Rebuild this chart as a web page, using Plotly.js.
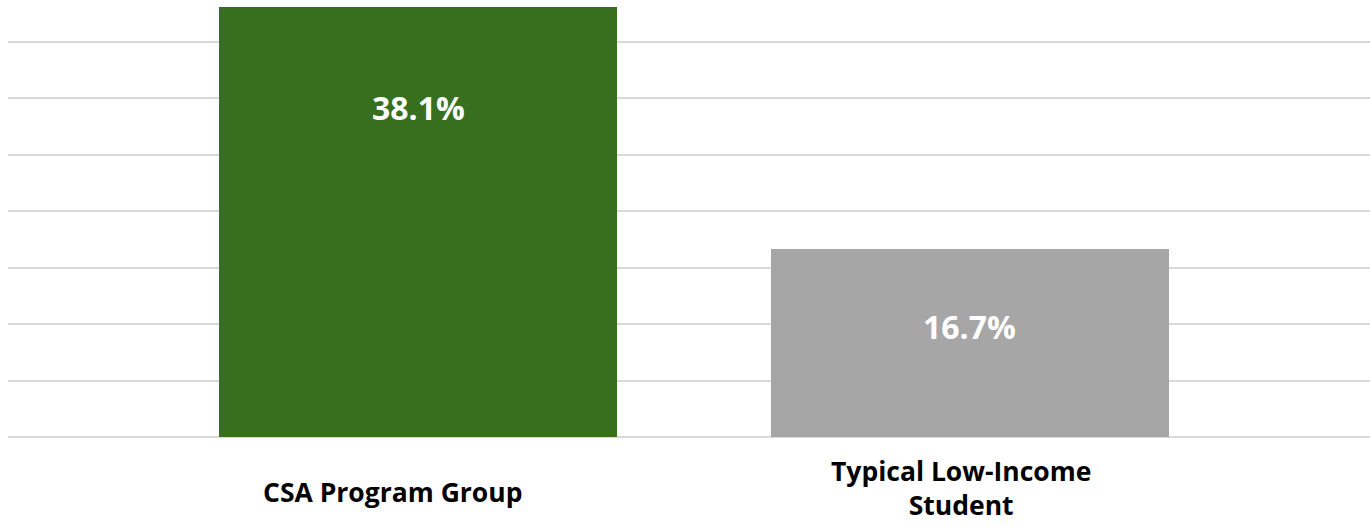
<!DOCTYPE html>
<html>
<head>
<meta charset="utf-8">
<script src="https://cdn.plot.ly/plotly-3.0.1.min.js"></script>
<style>html,body{margin:0;padding:0;background:#fff;}#chart{width:1370px;height:526px;}</style>
</head>
<body>
<div id="chart"></div>
<script>
const categories = ["CSA Program Group", "Typical Low-Income Student"];
const tickLabels = ["CSA Program Group", "Typical Low-Income<br>Student"];
const values = [38.1, 16.7];
const valueLabels = ["38.1%", "16.7%"];
const barColors = ["#376f1f", "#a6a6a6"];

const labelOffsets = [-100, -78];
const tickShifts = [-26, -9];
const tickYShifts = [-55, -51];

const trace = {
  type: "bar",
  x: categories,
  y: values,
  width: 0.721,
  marker: {color: barColors, line: {width: 0}},
  hoverinfo: "none"
};

const annotations = [];
categories.forEach((c, i) => {
  annotations.push({
    x: c, y: values[i], xref: "x", yref: "y",
    text: "<b>" + valueLabels[i] + "</b>", showarrow: false,
    yanchor: "middle", yshift: labelOffsets[i],
    font: {family: "'Open Sans', sans-serif", size: 32, color: "#ffffff"}
  });
  annotations.push({
    x: c, y: 0, xref: "x", yref: "y",
    text: "<b>" + tickLabels[i] + "</b>", showarrow: false,
    yanchor: "middle", yshift: tickYShifts[i], xshift: tickShifts[i],
    font: {family: "'Open Sans', sans-serif", size: 26.5, color: "#000000"}
  });
});

const layout = {
  width: 1370, height: 526,
  margin: {l: 8, r: 0, t: 0, b: 89, pad: 0},
  paper_bgcolor: "#ffffff", plot_bgcolor: "#ffffff",
  showlegend: false,
  xaxis: {type: "category", range: [-0.743, 1.725], showticklabels: false, showgrid: false, zeroline: false, showline: false, ticks: ""},
  yaxis: {range: [0, 38.72], dtick: 5, showgrid: true, gridcolor: "#d9d9d9", gridwidth: 2,
          zeroline: true, zerolinecolor: "#d9d9d9", zerolinewidth: 2, showticklabels: false, ticks: "", showline: false},
  annotations: annotations,
  bargap: 0
};

Plotly.newPlot("chart", [trace], layout, {displayModeBar: false, staticPlot: true});
</script>
</body>
</html>
